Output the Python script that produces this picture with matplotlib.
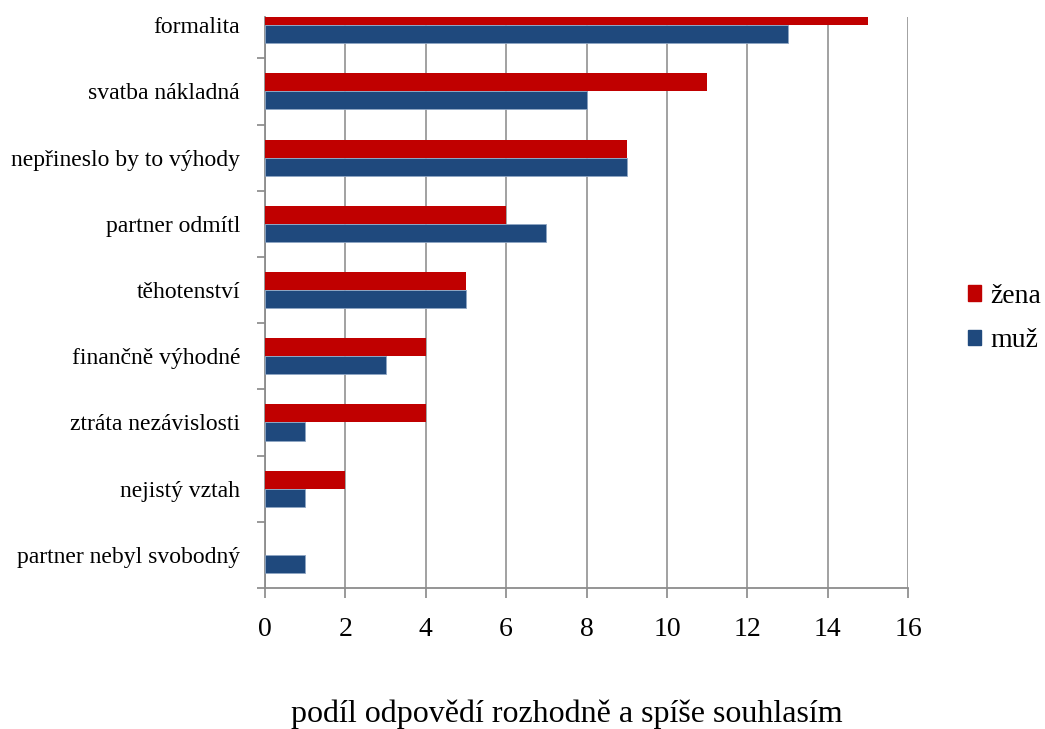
import numpy as np
import matplotlib.pyplot as plt
from matplotlib.patches import Patch

categories = ["partner nebyl svobodný", "nejistý vztah", "ztráta nezávislosti",
              "finančně výhodné", "těhotenství", "partner odmítl",
              "nepřineslo by to výhody", "svatba nákladná", "formalita"]
zena = [0, 2, 4, 4, 5, 6, 9, 11, 15]
muz = [1, 1, 1, 3, 5, 7, 9, 8, 13]
xticks = [0, 2, 4, 6, 8, 10, 12, 14, 16]

plt.rcParams['font.family'] = ['Liberation Serif', 'DejaVu Serif']

fig = plt.figure(figsize=(10.45, 7.29), dpi=100)
ax = fig.add_axes([0.2536, 0.1934, 0.869 - 0.2536, 0.9767 - 0.1934])

y = np.arange(len(categories))
h = 0.272
red = "#C00000"
blue = "#1F497D"
ax.barh(y + h / 2, zena, height=h, color=red, zorder=3)
ax.barh(y - h / 2, muz, height=h, color=blue, edgecolor="#8FA6C4", linewidth=0.6, zorder=3)

ax.set_xticks(xticks)
ax.set_xticklabels([str(t) for t in xticks], fontsize=20)
ax.set_yticks(y)
ax.set_yticklabels(categories, fontsize=17)
ax.set_yticks(np.arange(-0.5, 8.6, 1), minor=True)
# top of the plot is cut off like in the original
ax.set_xlim(0, 16)
ax.set_ylim(-0.5, 8.125)
ax.tick_params(axis="y", which="major", length=0, pad=18)
ax.tick_params(axis="y", which="minor", length=6, color="#888888", width=1.2)
ax.tick_params(axis="x", length=7, color="#888888", width=1.2, pad=14)

ax.grid(axis="x", color="#9A9A9A", linewidth=1.3, zorder=0)
for s in ["top", "right"]:
    ax.spines[s].set_visible(False)
for s in ["left", "bottom"]:
    ax.spines[s].set_color("#8C8C8C")
    ax.spines[s].set_linewidth(1.3)

ax.set_xlabel("podíl odpovědí rozhodně a spíše souhlasím", fontsize=23)
ax.xaxis.set_label_coords(0.47, -0.196)

handles = [Patch(color=red, label="žena"), Patch(color=blue, label="muž")]
fig.legend(handles=handles, loc="center left", bbox_to_anchor=(0.926, 0.563),
           frameon=False, fontsize=20, handlelength=0.47, handleheight=0.47,
           handletextpad=0.33, labelspacing=0.7, borderpad=0, borderaxespad=0)

fig.savefig("out.png", dpi=100)
